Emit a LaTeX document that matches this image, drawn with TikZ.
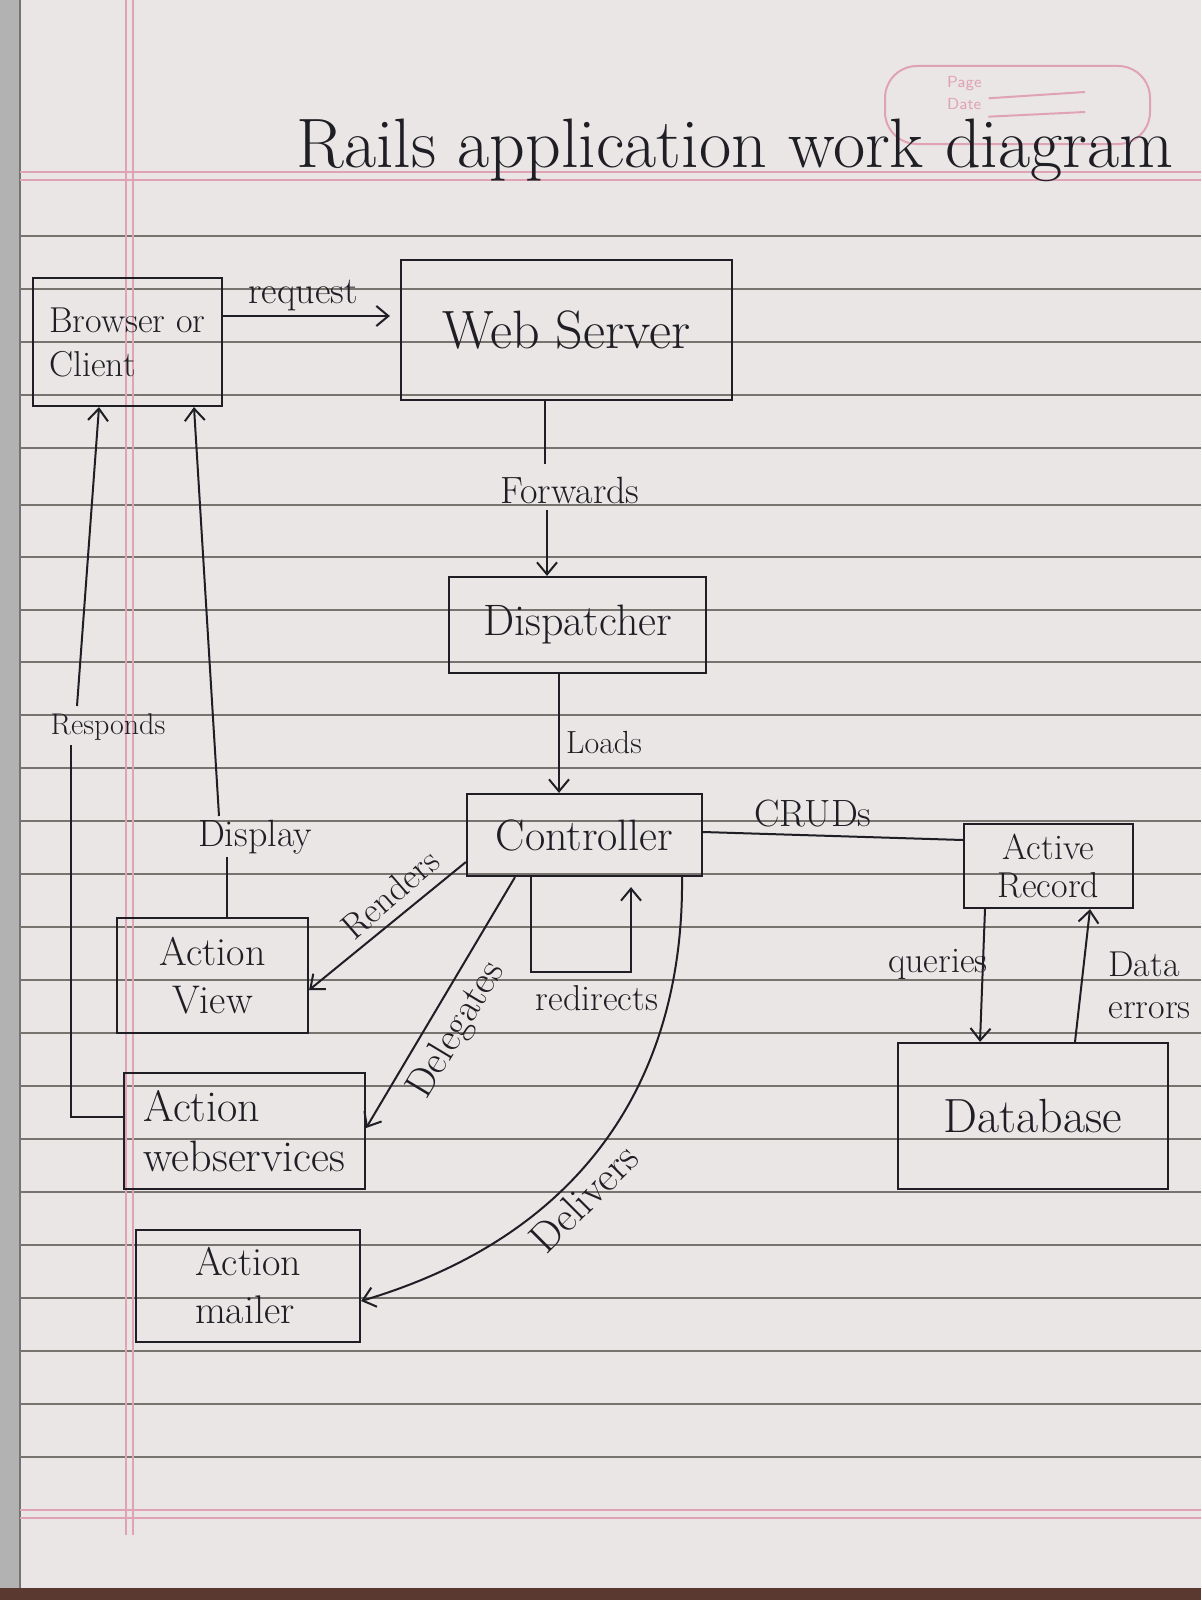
\documentclass[tikz,border=0pt]{standalone}
\usetikzlibrary{arrows.meta,calc}
\definecolor{paper}{HTML}{E9E6E5}
\definecolor{rule}{HTML}{77736F}
\definecolor{pinkline}{HTML}{E0A3B6}
\definecolor{ink}{HTML}{1E1E24}
\definecolor{cloth}{HTML}{5A3A30}
\begin{document}
\begin{tikzpicture}[x=0.5pt,y=-0.5pt,
  box/.style={draw=ink, line width=1.1pt, inner sep=0pt, text=ink,
    font=\fontsize{20}{24}\selectfont, align=center},
  lbl/.style={text=ink, font=\fontsize{18}{21}\selectfont, inner sep=1pt},
  conn/.style={draw=ink, line width=1pt},
  arr/.style={conn, -{Straight Barb[length=6pt,width=10pt,line width=1pt]}},
  ruled/.style={draw=rule, line width=0.6pt},
  pinkrule/.style={draw=pinkline, line width=1pt},
]
\useasboundingbox (0,0) rectangle (1201,1600);
% paper
\fill[paper] (0,0) rectangle (1201,1600);
\fill[black!30] (0,0) rectangle (20,1600);
\draw[black!55, line width=0.8pt] (20,0) -- (20,1600);
\fill[cloth] (0,1588) rectangle (1201,1600);
% ruled lines
\foreach \yy in {236,289,342,395,448,505,557,610,662,715,768,821,874,927,980,1033,1086,1139,1192,1245,1298,1351,1404,1457}
  \draw[ruled] (20,\yy) -- (1201,\yy);
% pink margins
\draw[pinkrule] (126,0) -- (126,1535);
\draw[pinkrule] (133,0) -- (133,1535);
\draw[pinkrule] (20,172) -- (1201,172);
\draw[pinkrule] (20,180) -- (1201,180);
\draw[pinkrule] (20,1510) -- (1201,1510);
\draw[pinkrule] (20,1518) -- (1201,1518);
% page / date scroll
\draw[pinkrule, rounded corners=16pt] (885,66) rectangle (1150,144);
\node[text=pinkline, font=\fontsize{8}{9}\selectfont\sffamily, anchor=west] (pg) at (940,84) {Page};
\node[text=pinkline, font=\fontsize{8}{9}\selectfont\sffamily, anchor=west] (dt) at (940,104) {Date};
\draw[pinkrule] (pg.south east) -- (1085,92);
\draw[pinkrule] (dt.south east) -- (1085,112);

% title
\node[text=ink, font=\fontsize{35}{40}\selectfont, anchor=base] (title) at (735,168) {Rails application work diagram};

% boxes
\node[box, minimum width=94.5pt, minimum height=64pt, align=left, font=\fontsize{18}{22}\selectfont] (browser) at (127.5,342) {Browser or\\Client};
\node[box, minimum width=165.5pt, minimum height=70pt, font=\fontsize{27}{30}\selectfont] (web) at (566.5,330) {Web Server};
\node[box, minimum width=128.5pt, minimum height=48pt, font=\fontsize{22}{26}\selectfont] (disp) at (577.5,625) {Dispatcher};
\node[box, minimum width=117.5pt, minimum height=41pt, font=\fontsize{22}{26}\selectfont] (ctrl) at (584.5,835) {Controller};
\node[box, minimum width=84.5pt, minimum height=42pt, font=\fontsize{18}{19}\selectfont] (ar) at (1048.5,866) {Active\\Record};
\node[box, minimum width=135pt, minimum height=73pt, font=\fontsize{24}{28}\selectfont] (db) at (1033,1116) {Database};
\node[box, minimum width=95.5pt, minimum height=57.5pt] (view) at (212.5,975.5) {Action\\View};
\node[box, minimum width=120.5pt, minimum height=58pt, align=left, font=\fontsize{22}{25}\selectfont] (ws) at (244.5,1131) {Action\\webservices};
\node[box, minimum width=112pt, minimum height=56pt, align=left] (mailer) at (248,1286) {Action\\mailer};

% request
\draw[arr, shorten >=5pt] (browser.east |- 0,316) -- (web.west |- 0,316);
\node[lbl, font=\fontsize{19}{21}\selectfont] (lreq) at (303,296) {request};

% forwards
\node[lbl, font=\fontsize{19}{21}\selectfont] (lfwd) at (570,490) {Forwards};
\coordinate (fw1) at (545,464);
\coordinate (fw2) at (547,510);
\draw[conn] (web.south -| fw1) -- (fw1);
\draw[arr] (fw2) -- (disp.north -| fw2);

% loads
\draw[arr] (disp.south -| 559,0) -- (ctrl.north -| 559,0);
\node[lbl, font=\fontsize{16}{18}\selectfont] (lload) at (604,743) {Loads};

% CRUDs
\draw[conn] (ctrl.east |- 0,832) -- (ar.west |- 0,840);
\node[lbl, font=\fontsize{19}{21}\selectfont] (lcrud) at (813,814) {CRUDs};

% queries / data errors
\draw[arr] (ar.south -| 985,0) -- (db.north -| 980,0);
\node[lbl] (lq) at (938,964) {queries};
\draw[arr] (db.north -| 1075,0) -- (ar.south -| 1090,0);
\node[lbl, align=left, anchor=west] (lde) at (1106,985) {Data\\errors};

% redirects
\coordinate (rd1) at (531,972);
\coordinate (rd2) at (631,972);
\draw[arr, shorten >=5pt] (ctrl.south -| rd1) -- (rd1) -- (rd2) -- (ctrl.south -| rd2);
\node[lbl] (lred) at (597,998) {redirects};

% renders
\draw[arr] (ctrl.west |- 0,862) -- (view.east |- 0,990);
\node[lbl, rotate=41] (lren) at (390,894) {Renders};

% delegates
\draw[arr] (ctrl.south -| 515,0) -- (ws.east |- 0,1128);
\node[lbl, rotate=59, font=\fontsize{20}{22}\selectfont] (ldel) at (457,1030) {Delegates};

% delivers
\draw[arr] (ctrl.south -| 682,0) .. controls (684,1060) and (600,1230) .. (mailer.east |- 0,1301);
\node[lbl, rotate=45, font=\fontsize{21}{24}\selectfont] (ldlv) at (584,1198) {Delivers};

% display
\coordinate (dp1) at (227,857);
\coordinate (dp2) at (219,816);
\draw[conn] (view.north -| dp1) -- (dp1);
\node[lbl, font=\fontsize{19}{21}\selectfont] (ldisp) at (255,837) {Display};
\draw[arr] (dp2) -- (browser.south -| 194,0);

% responds
\coordinate (rs1) at (71,1117);
\coordinate (rs2) at (71,745);
\coordinate (rs3) at (77,706);
\draw[conn] (ws.west |- rs1) -- (rs1) -- (rs2);
\node[lbl, font=\fontsize{15}{18}\selectfont] (lresp) at (108,727) {Responds};
\draw[arr] (rs3) -- (browser.south -| 99,0);
\end{tikzpicture}
\end{document}
